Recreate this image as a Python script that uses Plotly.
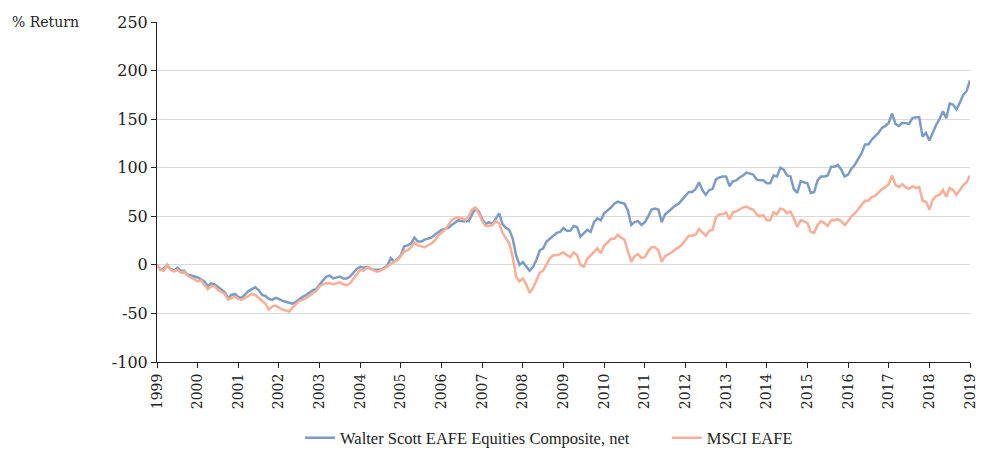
import plotly.graph_objects as go

# Monthly cumulative % return, Jan 1999 .. Jan 2019 (241 points)
walter_scott = [
    0, -5, -4, 0, -4, -6, -3, -6, -6, -10, -11, -12,
    -13, -15, -17, -22, -19, -20, -23, -26, -28, -34, -31, -30,
    -33, -34, -30, -27, -25, -23, -26, -31, -32, -35, -36, -34,
    -35, -37, -38, -39, -40, -38, -35, -33, -31, -28, -26, -25,
    -20, -16, -12, -11, -14, -13, -12, -14, -14, -12, -8, -4,
    -2, -3, -2, -4, -5, -5, -5, -3, -1, 7, 3, 6,
    10, 19, 20, 22, 28, 24, 24, 26, 27, 28, 31, 34,
    36, 37, 38, 41, 44, 46, 45, 45, 45, 52, 58, 55,
    47, 42, 44, 42, 48, 53, 42, 38, 36, 27, 10, 0,
    3, -2, -6, -2, 5, 15, 17, 24, 27, 31, 33, 34,
    38, 35, 35, 40, 39, 29, 32, 36, 34, 44, 48, 46,
    53, 56, 59, 63, 65, 64, 63, 56, 41, 44, 45, 41,
    44, 50, 57, 58, 57, 44, 52, 55, 58, 61, 63, 67,
    70, 75, 75, 78, 85, 77, 72, 77, 78, 88, 90, 91,
    91, 81, 86, 87, 90, 92, 95, 94, 93, 88, 87, 87,
    84, 84, 92, 91, 100, 98, 92, 91, 78, 74, 86, 85,
    84, 74, 75, 87, 91, 91, 92, 101, 101, 103, 98, 91,
    93, 99, 103, 109, 115, 124, 124, 129, 132, 136, 141, 143,
    146, 156, 145, 143, 146, 146, 145, 151, 152, 152, 132, 136,
    128, 136, 144, 150, 158, 151, 166, 165, 160, 167, 175, 179,
    190,
]

msci_eafe = [
    0, -5, -6, 0, -5, -7, -5, -8, -7, -11, -13, -15,
    -17, -16, -20, -25, -22, -22, -26, -28, -30, -36, -34, -33,
    -35, -36, -34, -32, -30, -31, -34, -37, -40, -46, -43, -42,
    -44, -46, -47, -48, -44, -40, -37, -36, -34, -32, -29, -27,
    -22, -20, -19, -19, -20, -19, -18, -20, -21, -19, -14, -10,
    -5, -6, -3, -3, -6, -7, -6, -4, -2, 1, 3, 5,
    9, 14, 15, 18, 23, 20, 19, 18, 20, 22, 25, 30,
    33, 36, 41, 46, 48, 49, 48, 46, 50, 57, 59, 53,
    45, 40, 40, 41, 45, 43, 33, 28, 22, 8, -12, -17,
    -14, -20, -29, -24, -15, -8, -6, 1, 7, 10, 10, 11,
    13, 10, 8, 13, 10, 0, -2, 6, 10, 13, 17, 12,
    20, 23, 27, 27, 31, 28, 26, 14, 3, 9, 11, 7,
    8, 14, 18, 18, 15, 3, 9, 11, 13, 16, 18, 21,
    25, 30, 30, 31, 37, 34, 30, 35, 36, 49, 52, 52,
    54, 47, 54, 55, 57, 59, 60, 58, 57, 52, 50, 51,
    46, 46, 54, 52, 58, 57, 53, 55, 48, 39, 46, 45,
    43, 34, 33, 41, 45, 43, 40, 46, 46, 47, 45, 41,
    45, 50, 53, 57, 61, 66, 66, 70, 71, 75, 78, 80,
    83, 92, 82, 80, 83, 80, 78, 81, 79, 80, 66, 65,
    57, 67, 71, 72, 77, 70, 79, 77, 72, 77, 82, 85,
    92,
]

start_year = 1999
year_ticks = list(range(1999, 2020))
y_ticks = [-100, -50, 0, 50, 100, 150, 200, 250]
y_tick_labels = ["-100", "-50", "0", "50", "100", "150", "200", "250"]

series_names = ["Walter Scott EAFE Equities Composite, net", "MSCI EAFE"]
series_colors = ["#7b9cc5", "#f9ae98"]
legend_ids = ["legend", "legend2"]

months = [start_year + i / 12 for i in range(len(walter_scott))]

FONT = "DejaVu Serif"
INK = "#222222"

fig = go.Figure()
for name, vals, col, lg in zip(series_names, [walter_scott, msci_eafe], series_colors, legend_ids):
    fig.add_trace(go.Scatter(
        x=months, y=vals, mode="lines", name=name, legend=lg,
        line=dict(color=col, width=2.5),
    ))

legend_style = dict(
    orientation="h", xanchor="left",
    yref="container", y=1 - 438 / 451, yanchor="middle",
    font=dict(family="Liberation Serif", size=16.5, color=INK),
    itemwidth=30, bgcolor="rgba(0,0,0,0)",
)

fig.update_layout(
    width=987, height=451,
    margin=dict(l=157, r=17, t=22, b=89),
    paper_bgcolor="white", plot_bgcolor="white",
    font=dict(family=FONT, size=14, color=INK),
    showlegend=True,
    legend=dict(x=0.176, **legend_style),
    legend2=dict(x=0.627, **legend_style),
    annotations=[dict(
        text="% Return", xref="paper", yref="paper",
        x=-0.181, y=1.0, xanchor="left", yanchor="middle", showarrow=False,
        font=dict(family=FONT, size=14, color=INK),
    )],
)

fig.update_xaxes(
    range=[1999, 2019], tickmode="array", tickvals=year_ticks,
    ticktext=[str(y) for y in year_ticks], tickangle=-90,
    showgrid=False, zeroline=False, automargin=False,
    showline=True, linecolor=INK, linewidth=1,
    ticks="outside", ticklen=5, tickcolor=INK,
    tickfont=dict(family=FONT, size=14, color=INK),
)
fig.update_yaxes(
    range=[-100, 250], tickmode="array", tickvals=y_ticks, ticktext=y_tick_labels,
    showgrid=True, gridcolor="#d9d9d9", gridwidth=1, zeroline=False, automargin=False,
    showline=True, linecolor=INK, linewidth=1,
    ticks="outside", ticklen=5, tickcolor=INK,
    tickfont=dict(family=FONT, size=16, color=INK),
)

fig.write_html(
    "out.html",
    config={"displayModeBar": False},
    post_script="document.body.style.margin='0';document.body.style.overflow='hidden';",
)
